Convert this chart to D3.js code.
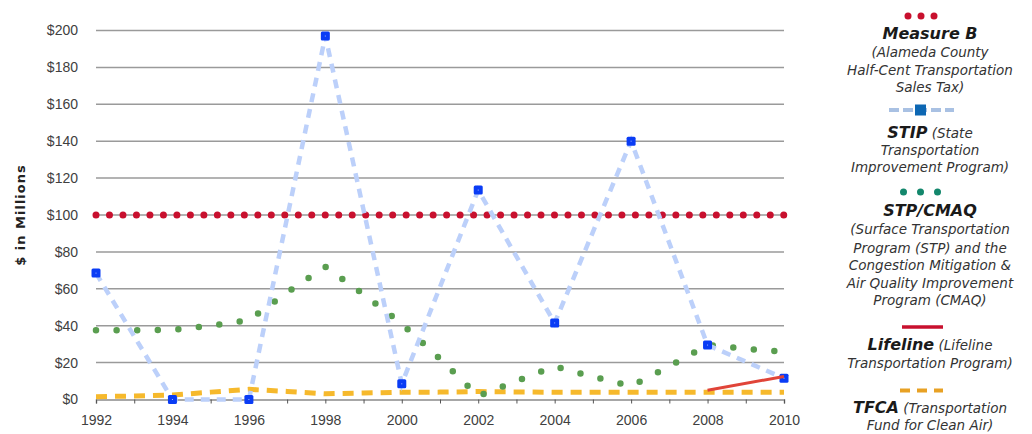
<!DOCTYPE html>
<html>
<head>
<meta charset="utf-8">
<script src="https://cdn.jsdelivr.net/npm/d3@7"></script>
<style>
  body { margin: 0; background: #fff; }
  svg { display: block; font-family: "DejaVu Sans", sans-serif; }
  .tick text { fill: #404040; font-size: 14px; }
  .legend text { fill: #333; font-size: 13.5px; font-style: italic; text-anchor: middle; }
  .legend .name { fill: #1a1a1a; font-weight: bold; font-size: 16px; }
</style>
</head>
<body>
<div id="chart"></div>
<script>
// chart data
var years = [1992, 1993, 1994, 1995, 1996, 1997, 1998, 1999, 2000, 2001,
  2002, 2003, 2004, 2005, 2006, 2007, 2008, 2009, 2010];
var measureB = [100, 100, 100, 100, 100, 100, 100, 100, 100, 100,
  100, 100, 100, 100, 100, 100, 100, 100, 100];
var stpCmaq = [37.5, 37.5, 37.8, 40, 43, 58, 72, 57, 41, 22,
  1.9, 10, 18, 12.3, 7.3, 18, 29.5, 27.5, 25.8];
var tfca = [1.5, 1.9, 2.4, 4, 5.5, 4.4, 3.1, 3.5, 3.9, 4,
  4.3, 4.1, 3.9, 3.9, 3.9, 3.9, 3.9, 3.9, 3.9];
var stipYears = [1992, 1994, 1996, 1998, 2000, 2002, 2004, 2006, 2008, 2010];
var stipValues = [68.5, 0, 0, 197, 8.5, 113.5, 41.5, 140, 29.5, 11.5];
var lifelineYears = [2008, 2010];
var lifelineValues = [5, 12.5];
var yTicks = [0, 20, 40, 60, 80, 100, 120, 140, 160, 180, 200];
var xTicks = [1992, 1994, 1996, 1998, 2000, 2002, 2004, 2006, 2008, 2010];

var svgWidth = 1032;
var svgHeight = 434;
var margin = { top: 30.5, right: 248, bottom: 34.5, left: 96 };
var width = svgWidth - margin.left - margin.right;
var height = svgHeight - margin.top - margin.bottom;

var svg = d3.select("#chart")
  .append("svg")
  .attr("width", svgWidth)
  .attr("height", svgHeight);

var chartGroup = svg.append("g")
  .attr("transform", `translate(${margin.left}, ${margin.top})`);

var x = d3.scaleLinear().domain([1992, 2010]).range([0, width]);
var y = d3.scaleLinear().domain([0, 200]).range([height, 0]);

// gridlines
chartGroup.append("g")
  .selectAll("line")
  .data(yTicks.filter(d => d > 0))
  .enter()
  .append("line")
  .attr("x1", 0)
  .attr("x2", width)
  .attr("y1", d => y(d))
  .attr("y2", d => y(d))
  .attr("stroke", "#9a9a9a")
  .attr("stroke-width", 1.5);

// y axis (labels only)
var yAxis = chartGroup.append("g")
  .call(d3.axisLeft(y).tickValues(yTicks).tickFormat(d => "$" + d).tickSize(0).tickPadding(18));
yAxis.select(".domain").remove();

// x axis
var xAxis = chartGroup.append("g")
  .attr("transform", `translate(0, ${height})`)
  .call(d3.axisBottom(x).tickValues(years).tickSize(4).tickPadding(12)
    .tickFormat(d => xTicks.indexOf(d) >= 0 ? d : ""));
xAxis.select(".domain").attr("stroke", "#8a8a8a").attr("stroke-width", 1.5);
xAxis.selectAll(".tick line").attr("stroke", "#555");

svg.append("text")
  .attr("transform", `translate(25, ${margin.top + y(100)}) rotate(-90)`)
  .attr("text-anchor", "middle")
  .attr("font-size", "13px")
  .attr("font-weight", "bold")
  .attr("letter-spacing", "1px")
  .attr("fill", "#222")
  .text("$ in Millions");

var line = d3.line().x(d => x(d[0])).y(d => y(d[1]));

// TFCA
chartGroup.append("path")
  .datum(d3.zip(years, tfca))
  .attr("d", line)
  .attr("fill", "none")
  .attr("stroke", "#f6b92c")
  .attr("stroke-width", 5)
  .attr("stroke-dasharray", "11,8");

// STP/CMAQ dotted
chartGroup.append("path")
  .datum(d3.zip(years, stpCmaq))
  .attr("d", line)
  .attr("fill", "none")
  .attr("stroke", "#5a9e50")
  .attr("stroke-width", 6.5)
  .attr("stroke-linecap", "round")
  .attr("stroke-dasharray", "0,20.6");

// Measure B dotted
var mbPath = chartGroup.append("path")
  .datum(d3.zip(years, measureB))
  .attr("d", line)
  .attr("fill", "none")
  .attr("stroke", "#c8102e")
  .attr("stroke-width", 7)
  .attr("stroke-linecap", "round");
mbPath.attr("stroke-dasharray", "0," + (mbPath.node().getTotalLength() / 51 - 0.005));

// STIP
chartGroup.append("path")
  .datum(d3.zip(stipYears, stipValues))
  .attr("d", line)
  .attr("fill", "none")
  .attr("stroke", "#bcd0fa")
  .attr("stroke-width", 4.5)
  .attr("stroke-dasharray", "9,7");

var stipMarks = chartGroup.selectAll(".stip")
  .data(d3.zip(stipYears, stipValues))
  .enter()
  .append("g")
  .attr("class", "stip")
  .attr("transform", d => `translate(${x(d[0])}, ${y(d[1])})`);
stipMarks.append("rect")
  .attr("x", -4.5)
  .attr("y", -4.5)
  .attr("width", 9)
  .attr("height", 9)
  .attr("rx", 1.5)
  .attr("fill", "#0a3cf5");
stipMarks.append("rect")
  .attr("x", -0.5)
  .attr("y", -0.5)
  .attr("width", 1)
  .attr("height", 1)
  .attr("fill", "#9fb4ff");

// Lifeline
chartGroup.append("path")
  .datum(d3.zip(lifelineYears, lifelineValues))
  .attr("d", line)
  .attr("fill", "none")
  .attr("stroke", "#e04438")
  .attr("stroke-width", 3);

// legend
var legend = svg.append("g").attr("class", "legend");
var cx = 930;

function addLines(items) {
  items.forEach(function (it) {
    var t = legend.append("text").attr("x", cx).attr("y", it[0]);
    if (it[2]) {
      t.append("tspan").attr("class", "name").text(it[2]);
    }
    if (it[1]) {
      t.append("tspan").text(it[2] ? " " + it[1] : it[1]);
    }
  });
}

// Measure B symbol
legend.selectAll(".mb")
  .data([-13, 0, 13])
  .enter()
  .append("circle")
  .attr("cx", d => 921 + d)
  .attr("cy", 16)
  .attr("r", 3.5)
  .attr("fill", "#c8102e");

addLines([
  [39, "", "Measure B"],
  [57, "(Alameda County"],
  [74.5, "Half-Cent Transportation"],
  [92, "Sales Tax)"]
]);

// STIP symbol
legend.append("line")
  .attr("x1", 889).attr("x2", 954).attr("y1", 110).attr("y2", 110)
  .attr("stroke", "#a9c1e3").attr("stroke-width", 4)
  .attr("stroke-dasharray", "10,4");
legend.append("rect")
  .attr("x", 915).attr("y", 104.5).attr("width", 11).attr("height", 11)
  .attr("fill", "#0d67b3");

addLines([
  [138, "(State", "STIP"],
  [154.5, "Transportation"],
  [171.5, "Improvement Program)"]
]);

// STP/CMAQ symbol
legend.selectAll(".sc")
  .data([-17, 0, 17])
  .enter()
  .append("circle")
  .attr("cx", d => 920.5 + d)
  .attr("cy", 192)
  .attr("r", 3.5)
  .attr("fill", "#13876c");

addLines([
  [216, "", "STP/CMAQ"],
  [234, "(Surface Transportation"],
  [252.5, "Program (STP) and the"],
  [270, "Congestion Mitigation &"],
  [288, "Air Quality Improvement"],
  [304.5, "Program (CMAQ)"]
]);

// Lifeline symbol
legend.append("line")
  .attr("x1", 902).attr("x2", 943).attr("y1", 327).attr("y2", 327)
  .attr("stroke", "#c8102e").attr("stroke-width", 3.5);

addLines([
  [349.5, "(Lifeline", "Lifeline"],
  [368, "Transportation Program)"]
]);

// TFCA symbol
legend.append("line")
  .attr("x1", 900).attr("x2", 943).attr("y1", 390.5).attr("y2", 390.5)
  .attr("stroke", "#e8a124").attr("stroke-width", 4)
  .attr("stroke-dasharray", "10,7");

addLines([
  [412.5, "(Transportation", "TFCA"],
  [430, "Fund for Clean Air)"]
]);
</script>
</body>
</html>
